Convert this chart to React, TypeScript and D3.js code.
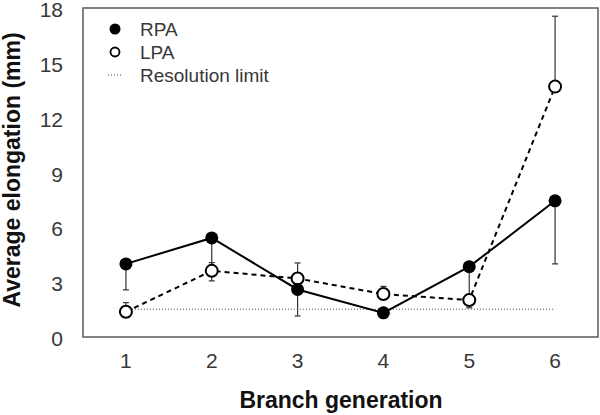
import React from "react";
import * as d3 from "d3";

const generations = [1, 2, 3, 4, 5, 6];
const rpaMean = [4.0, 5.42, 2.6, 1.32, 3.85, 7.45];
const rpaErrLow = [1.42, 2.35, 1.45, 0.0, 2.25, 3.45];
const lpaMean = [1.38, 3.62, 3.2, 2.35, 2.02, 13.7];
const lpaErrHigh = [0.5, 0.45, 0.85, 0.42, 0.2, 3.85];
const resolutionLimit = 1.52;
const yTicks = [0, 3, 6, 9, 12, 15, 18];

const W = 600;
const H = 415;
const frame = { left: 83, right: 598, top: 8, bottom: 337 };

export default function App() {
  const x = d3.scaleLinear().domain([0.5, 6.5]).range([frame.left, frame.right]);
  const y = d3.scaleLinear().domain([0, 18]).range([frame.bottom, frame.top]);
  const line = d3
    .line<number>()
    .x((_, i) => x(generations[i]))
    .y((d) => y(d));
  const font = "'Liberation Sans', Arial, Helvetica, sans-serif";
  const capW = 3;
  const r = 6.5;
  const labelFill = "#383838";

  return (
    <svg
      width={W}
      height={H}
      style={{ position: "absolute", left: 0, top: 0, background: "#fff" }}
      fontFamily={font}
    >
      {/* frame */}
      <rect
        x={frame.left}
        y={frame.top}
        width={frame.right - frame.left}
        height={frame.bottom - frame.top}
        fill="none"
        stroke="#5a5a5a"
        strokeWidth={1.5}
      />
      {/* y tick labels */}
      {yTicks.map((t) => (
        <text
          key={t}
          x={63}
          y={y(t)}
          dy="0.43em"
          textAnchor="end"
          fontSize={21}
          fill={labelFill}
        >
          {t}
        </text>
      ))}
      {/* x tick labels */}
      {generations.map((g) => (
        <text
          key={g}
          x={x(g)}
          y={368}
          textAnchor="middle"
          fontSize={21}
          fill={labelFill}
        >
          {g}
        </text>
      ))}
      {/* axis titles */}
      <text
        x={341}
        y={408}
        textAnchor="middle"
        fontSize={23}
        fontWeight="bold"
        fill="#111"
      >
        Branch generation
      </text>
      <text
        transform={`translate(20,${170}) rotate(-90)`}
        textAnchor="middle"
        fontSize={23}
        fontWeight="bold"
        fill="#111"
      >
        Average elongation (mm)
      </text>

      {/* resolution limit */}
      <line
        x1={x(generations[0])}
        x2={x(generations[generations.length - 1])}
        y1={y(resolutionLimit)}
        y2={y(resolutionLimit)}
        stroke="#444"
        strokeWidth={1}
        strokeDasharray="1,2"
      />

      {/* error bars */}
      {generations.map((g, i) =>
        rpaErrLow[i] > 0 ? (
          <g key={"re" + g} stroke="#333" strokeWidth={1.2}>
            <line x1={x(g)} x2={x(g)} y1={y(rpaMean[i])} y2={y(rpaMean[i] - rpaErrLow[i])} />
            <line
              x1={x(g) - capW}
              x2={x(g) + capW}
              y1={y(rpaMean[i] - rpaErrLow[i])}
              y2={y(rpaMean[i] - rpaErrLow[i])}
            />
          </g>
        ) : null
      )}
      {generations.map((g, i) => (
        <g key={"le" + g} stroke="#333" strokeWidth={1.2}>
          <line x1={x(g)} x2={x(g)} y1={y(lpaMean[i])} y2={y(lpaMean[i] + lpaErrHigh[i])} />
          <line
            x1={x(g) - capW}
            x2={x(g) + capW}
            y1={y(lpaMean[i] + lpaErrHigh[i])}
            y2={y(lpaMean[i] + lpaErrHigh[i])}
          />
        </g>
      ))}

      {/* lines */}
      <path d={line(rpaMean) || ""} fill="none" stroke="#000" strokeWidth={2} />
      <path
        d={line(lpaMean) || ""}
        fill="none"
        stroke="#000"
        strokeWidth={2}
        strokeDasharray="5,4"
      />

      {/* markers */}
      {generations.map((g, i) => (
        <circle key={"lm" + g} cx={x(g)} cy={y(lpaMean[i])} r={r - 0.5} fill="#fff" stroke="#000" strokeWidth={2} />
      ))}
      {generations.map((g, i) => (
        <circle key={"rm" + g} cx={x(g)} cy={y(rpaMean[i])} r={r} fill="#000" />
      ))}

      {/* legend */}
      <circle cx={115} cy={29} r={5.5} fill="#000" />
      <text x={140} y={29} dy="0.36em" fontSize={19} fill={labelFill}>RPA</text>
      <circle cx={115} cy={52} r={4.5} fill="#fff" stroke="#000" strokeWidth={1.8} />
      <text x={140} y={52} dy="0.36em" fontSize={19} fill={labelFill}>LPA</text>
      <line x1={108} x2={123} y1={75} y2={75} stroke="#444" strokeWidth={1} strokeDasharray="1,2" />
      <text x={140} y={75} dy="0.36em" fontSize={19} fill={labelFill}>Resolution limit</text>
    </svg>
  );
}
